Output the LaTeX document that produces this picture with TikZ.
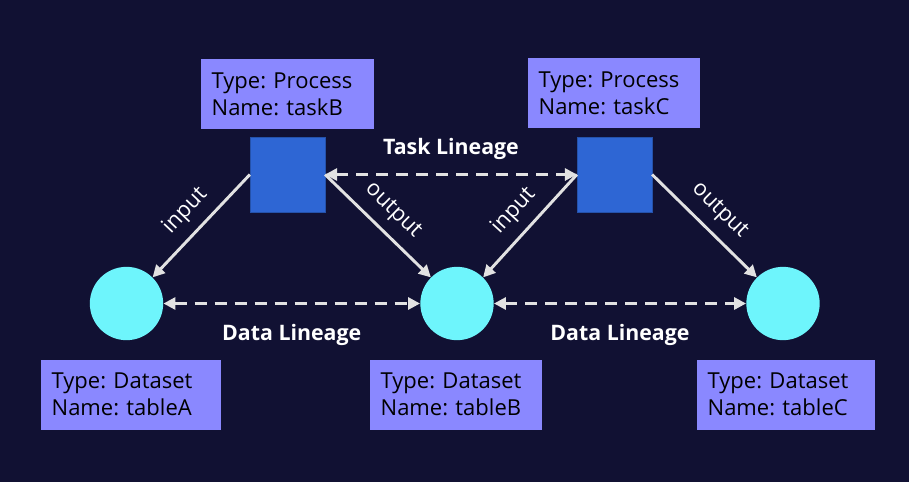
\documentclass[tikz,border=0pt]{standalone}
\usepackage{fontspec}
\setmainfont{Open Sans}
\usetikzlibrary{arrows.meta}

\definecolor{bgnavy}{HTML}{111133}
\definecolor{procblue}{HTML}{2E66D4}
\definecolor{datacyan}{HTML}{6EF5FC}
\definecolor{infoviolet}{HTML}{8A88FF}
\definecolor{linkgray}{HTML}{E2E2E2}

\begin{document}
\frenchspacing
\begin{tikzpicture}[
  x=0.75pt, y=-0.75pt,
  proc/.style={fill=procblue, draw=procblue!80!black, minimum size=56pt, inner sep=0pt},
  dset/.style={circle, fill=datacyan, minimum size=55pt, inner sep=0pt},
  info/.style={fill=infoviolet, minimum height=52.5pt, inner xsep=8pt, align=left, font=\fontsize{16.5}{20}\selectfont, text=black},
  lbl/.style={text=white, font=\fontsize{16}{19}\selectfont\bfseries},
  flow/.style={draw=linkgray, line width=2.2pt, -{Triangle[length=9pt,width=9pt]}},
  lineage/.style={draw=linkgray, line width=2.2pt, dash pattern=on 9pt off 6pt, {Triangle[length=9pt,width=9pt]}-{Triangle[length=9pt,width=9pt]}},
  edgetxt/.style={sloped, text=white, font=\fontsize{16.5}{20}\selectfont}
]
\fill[bgnavy] (0,0) rectangle (909,482);

%--- Processes ---
\node[proc] (taskB) at (287.5,174.5) {};
\node[proc] (taskC) at (614.5,174.5) {};
\node[info, text width=173*0.75pt-16pt] (infoB) at (287.5,94) {Type: Process\\Name: taskB};
\node[info, text width=172*0.75pt-16pt] (infoC) at (614,93) {Type: Process\\Name: taskC};

%--- Datasets ---
\node[dset] (tabA) at (126.5,303.5) {};
\node[dset] (tabB) at (457,303.5) {};
\node[dset] (tabC) at (783,303.5) {};
\node[info, text width=180*0.75pt-16pt] (infoA) at (131,394.5) {Type: Dataset\\Name: tableA};
\node[info, text width=172*0.75pt-16pt] (infoTB) at (456,394.5) {Type: Dataset\\Name: tableB};
\node[info, text width=178*0.75pt-16pt] (infoTC) at (786,394.5) {Type: Dataset\\Name: tableC};

%--- input / output ---
\draw[flow] (taskB.west) -- node[edgetxt, above=4pt] {input} (tabA.north east);
\draw[flow] (taskB.east) -- node[edgetxt, above=4pt] {output} (tabB.north west);
\draw[flow] (taskC.west) -- node[edgetxt, above=4pt] {input} (tabB.north east);
\draw[flow] (taskC.east) -- node[edgetxt, above=4pt] {output} (tabC.north west);

%--- lineage ---
\draw[lineage] (taskB.east) -- node[lbl, above=7pt] {Task Lineage} (taskC.west);
\draw[lineage] (tabA.east) -- node[lbl, below=11pt] {Data Lineage} (tabB.west);
\draw[lineage] (tabB.east) -- node[lbl, below=11pt] {Data Lineage} (tabC.west);
\end{tikzpicture}
\end{document}
